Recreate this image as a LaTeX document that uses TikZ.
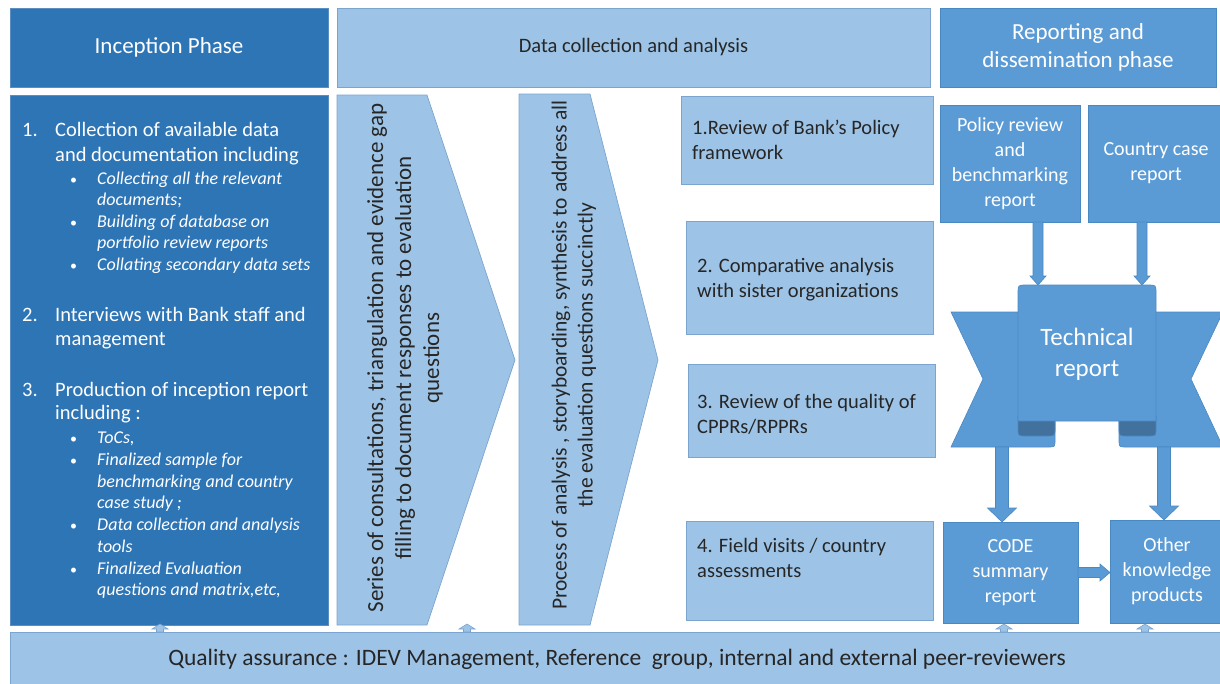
\documentclass[tikz,border=0pt]{standalone}
\usepackage{fontspec}
\setmainfont{Carlito}
\usetikzlibrary{calc}

\definecolor{incblue}{HTML}{2E75B6}
\definecolor{incline}{HTML}{5B8FC4}
\definecolor{paleblue}{HTML}{9DC3E6}
\definecolor{paleline}{HTML}{7BA5CF}
\definecolor{midblue}{HTML}{5B9BD5}
\definecolor{midline}{HTML}{4A88C2}
\definecolor{folddark}{HTML}{41719C}
\definecolor{inktext}{HTML}{262626}

\newcommand\fs[2]{\fontsize{#1}{#2}\selectfont}

% block arrow: style, start, tip, half shaft, half head, head length
\newcommand\blockarrow[6]{%
  \coordinate (bahb) at ($(#3)!#6!(#2)$);
  \draw[#1] ($(#2)!#4!90:(#3)$) -- ($(bahb)!#4!90:(#3)$) -- ($(bahb)!#5!90:(#3)$)
    -- (#3) -- ($(bahb)!#5!-90:(#3)$) -- ($(bahb)!#4!-90:(#3)$) -- ($(#2)!#4!-90:(#3)$) -- cycle;}

\tikzset{
  box/.style={rectangle, inner sep=0pt, outer sep=0pt, anchor=north west, line width=0.7pt},
  darkbox/.style={box, fill=incblue, draw=incline},
  palebox/.style={box, fill=paleblue, draw=paleline},
  midbox/.style={box, fill=midblue, draw=midline},
  chevron/.style={fill=paleblue, draw=paleline, line width=0.7pt},
  ribbon/.style={fill=midblue, draw=midline, line width=0.6pt},
  fold/.style={fill=folddark, draw=midline, line width=0.6pt},
  barrow/.style={fill=midblue, draw=midline, line width=0.6pt},
  qarrow/.style={fill=paleblue, draw=paleline, line width=0.6pt},
  mainline/.style={anchor=base west, inner sep=0pt, text=white, font=\fs{20.5}{25}},
  subline/.style={anchor=base west, inner sep=0pt, text=white, font=\fs{18}{22}\itshape},
  dotline/.style={anchor=base west, inner sep=0pt, text=white, font=\fs{14}{22}},
  stepline/.style={anchor=base west, inner sep=0pt, text=inktext, font=\fs{20.5}{25}},
}

\begin{document}
\begin{tikzpicture}[x=1pt,y=-1pt]
\useasboundingbox (0,0) rectangle (1220,683);

% ---- phase headers ----
\node[darkbox, minimum width=318pt, minimum height=79pt, text=white, font=\fs{23}{27}] (hInc) at (10,8) {Inception Phase};
\node[palebox, minimum width=593pt, minimum height=79pt, text=inktext, font=\fs{20.5}{25}] (hData) at (337,8) {Data collection and analysis};
\node[midbox, minimum width=276pt, minimum height=79pt, text=white, font=\fs{23}{28}, align=center] (hRep) at (940,8) {Reporting and\\dissemination phase};

% ---- inception phase column ----
\node[darkbox, minimum width=318pt, minimum height=530pt] (inc) at (10,95) {};
\foreach \y/\n in {136/1., 321/2., 396/3.}
  \node[mainline] (num\y) at (22,\y) {\n};
\foreach \y/\t in {136/{Collection of available data}, 161/{and documentation including},
                   321/{Interviews with Bank staff and}, 345/{management},
                   396/{Production of inception report}, 419/{including :}}
  \node[mainline] (main\y) at (55,\y) {\t};
\foreach \y in {184,227,270,443,465,530,574}
  \node[dotline] (dot\y) at (70,\y) {•};
\foreach \y/\t in {184/{Collecting all the relevant}, 205/{documents;},
                   227/{Building of database on}, 248/{portfolio review reports},
                   270/{Collating secondary data sets},
                   443/{ToCs,}, 465/{Finalized sample for}, 487/{benchmarking and country},
                   508/{case study ;}, 530/{Data collection and analysis}, 552/{tools},
                   574/{Finalized Evaluation}, 595/{questions and matrix,etc,}}
  \node[subline] (sub\y) at (97,\y) {\t};

% ---- data collection chevrons ----
\draw[chevron] (337,95) -- (427,95) -- (515,360) -- (427,625) -- (337,625) -- cycle;
\node[rotate=90, align=center, text=inktext, font=\fs{23}{28}] (chA) at (405,358)
  {Series of consultations, triangulation and evidence gap\\filling to document responses to evaluation\\questions};
\draw[chevron] (519,94) -- (590,94) -- (658,360) -- (590,625) -- (519,625) -- cycle;
\node[rotate=90, align=center, text=inktext, font=\fs{21.5}{26}] (chB) at (574,355)
  {Process of analysis , storyboarding, synthesis to address all\\the evaluation questions succinctly};

% ---- data collection steps ----
\node[palebox, minimum width=252pt, minimum height=88pt] (s1) at (681,96) {};
\node[palebox, minimum width=247pt, minimum height=113pt] (s2) at (686,221) {};
\node[palebox, minimum width=247pt, minimum height=93pt] (s3) at (688,364) {};
\node[palebox, minimum width=247pt, minimum height=99pt] (s4) at (686,521) {};
\foreach \x/\y/\t in {692/134/{1.Review of Bank’s Policy}, 692/159/{framework},
                      697/272/{2. Comparative analysis}, 697/297/{with sister organizations},
                      697/408/{3. Review of the quality of}, 697/433/{CPPRs/RPPRs},
                      697/552/{4. Field visits / country}, 697/577/{assessments}}
  \node[stepline] (st\y) at (\x,\y) {\t};

% ---- reporting phase ----
\node[midbox, minimum width=140pt, minimum height=117pt, text=white, font=\fs{20}{25}, align=center] (pol) at (940,105) {Policy review\\and\\benchmarking\\report};
\node[midbox, minimum width=136pt, minimum height=117pt, text=white, font=\fs{20}{25}, align=center] (cty) at (1088,105) {Country case\\report};

% technical report ribbon: wings, folds, front panel
\draw[ribbon] (1030,312) -- (951,312) -- (983,379) -- (951,447) -- (1048,447)
  .. controls (1055,447) .. (1055,440) -- (1055,421) -- (1030,421) -- cycle;
\draw[ribbon] (1144,312) -- (1223,312) -- (1191,379) -- (1223,447) -- (1126,447)
  .. controls (1119,447) .. (1119,440) -- (1119,421) -- (1144,421) -- cycle;
\draw[fold] (1018,416) -- (1018,428) .. controls (1018,436) .. (1026,436) -- (1047,436)
  .. controls (1055,436) .. (1055,428) -- (1055,416) -- cycle;
\draw[fold] (1119,416) -- (1119,428) .. controls (1119,436) .. (1127,436) -- (1148,436)
  .. controls (1156,436) .. (1156,428) -- (1156,416) -- cycle;
\draw[ribbon] (1018,421) -- (1018,293) .. controls (1018,285) .. (1026,285) -- (1148,285)
  .. controls (1156,285) .. (1156,293) -- (1156,421) -- cycle;
\node[text=white, font=\fs{25}{31}, align=center] (tech) at (1087,354) {Technical\\report};
\coordinate (techTop) at (1087,285);
\coordinate (wingL) at (1002,447);
\coordinate (wingR) at (1164,447);

\node[midbox, minimum width=135pt, minimum height=101pt, text=white, font=\fs{20}{25}, align=center] (code) at (943,522) {CODE\\summary\\report};
\node[midbox, minimum width=114pt, minimum height=103pt, text=white, font=\fs{20}{25}, align=center] (oth) at (1110,520) {Other\\knowledge\\products};

% reporting arrows
\coordinate (polOut) at ($(pol.south)+(28,0)$);
\coordinate (polIn) at (polOut |- techTop);
\blockarrow{barrow}{polOut}{polIn}{5pt}{8pt}{9pt}
\coordinate (ctyOut) at ($(cty.south)+(-14,0)$);
\coordinate (ctyIn) at (ctyOut |- techTop);
\blockarrow{barrow}{ctyOut}{ctyIn}{5pt}{8pt}{9pt}
\coordinate (codeIn) at (wingL |- code.north);
\blockarrow{barrow}{wingL}{codeIn}{6.5pt}{14.5pt}{14pt}
\coordinate (othIn) at (wingR |- oth.north);
\blockarrow{barrow}{wingR}{othIn}{6.5pt}{14.5pt}{14pt}
\coordinate (othSide) at (code.east -| oth.west);
\blockarrow{barrow}{code.east}{othSide}{5pt}{8.5pt}{10pt}

% ---- quality assurance ----
\node[palebox, minimum width=1214pt, minimum height=54pt, text=inktext, font=\fs{23.5}{27}] (qa) at (10,632)
  {Quality assurance : IDEV Management, Reference~ group, internal and external peer-reviewers};
\foreach \x in {160,467,1004,1145} {
  \coordinate (qb\x) at (\x,0 |- qa.north);
  \coordinate (qt\x) at (\x,624);
  \blockarrow{qarrow}{qb\x}{qt\x}{3.5pt}{8pt}{5pt}
}
\end{tikzpicture}
\end{document}
